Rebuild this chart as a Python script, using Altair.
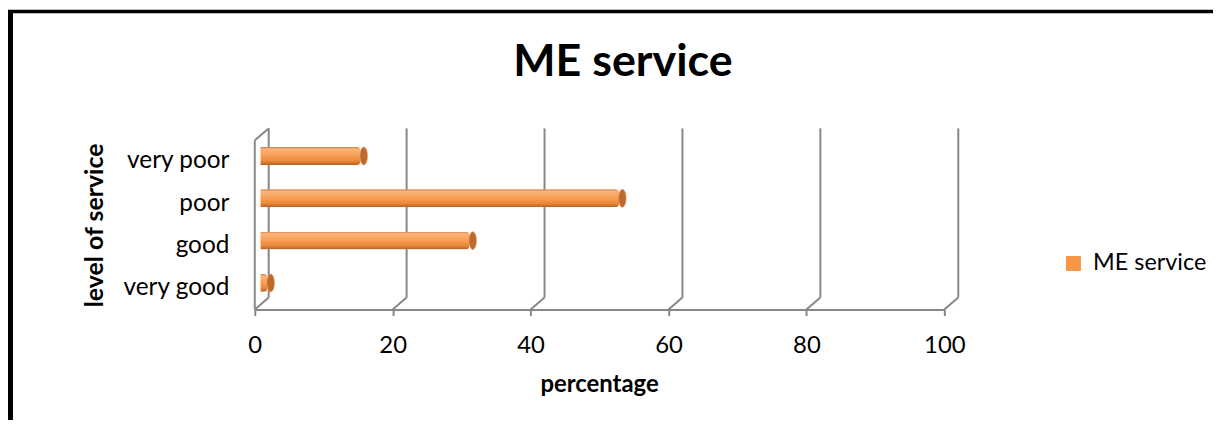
import altair as alt
import pandas as pd

# ---- data ----
categories = ["very poor", "poor", "good", "very good"]
values = [15.3, 52.8, 31.1, 1.8]
series_name = "ME service"
chart_title = "ME service"
x_ticks = [0, 20, 40, 60, 80, 100]

df = pd.DataFrame({"level": categories, "pct": values, "series": [series_name] * len(categories)})
ticks_df = pd.DataFrame({"t": x_ticks})
one = pd.DataFrame({"a": [0]})
title_df = pd.DataFrame({"txt": [chart_title]})

W, H = 693, 170
DX, DY = 14, -12          # 3-D depth offset of the back wall
GRID = "#878787"
FONT = "Lato"

xscale = alt.Scale(domain=[0, 100], nice=False, zero=True)
yscale = alt.Scale(domain=categories, paddingInner=0, paddingOuter=0)

x_axis = alt.Axis(values=x_ticks, grid=False, domainColor=GRID, domainWidth=2,
                  tickColor=GRID, tickWidth=2, tickSize=6, labelFlush=False,
                  labelFont=FONT, labelFontSize=24, labelColor="black", labelPadding=18,
                  title="percentage", titleFont=FONT, titleFontSize=24, titleFontWeight="bold",
                  titleColor="black", titleX=346, titleY=75, titleBaseline="middle")
y_axis = alt.Axis(domain=False, ticks=False, grid=False,
                  labelFont=FONT, labelFontSize=24.5, labelColor="black", labelPadding=26,
                  labelAlign="right", labelBaseline="middle",
                  title="level of service", titleFont=FONT, titleFontSize=25, titleFontWeight="bold",
                  titleColor="black", titleAngle=-90, titleX=-161, titleY=85,
                  titleAlign="center", titleBaseline="middle")

X = alt.X("pct:Q", scale=xscale, axis=x_axis)
Y = alt.Y("level:N", sort=categories, scale=yscale, axis=y_axis)
XT = alt.X("t:Q", scale=xscale, axis=x_axis)

legend = alt.Legend(title=None, orient="none", legendX=811, legendY=112, symbolType="square",
                    symbolSize=225, symbolStrokeWidth=0, labelFont=FONT, labelFontSize=23.5,
                    labelColor="black", labelOffset=8, padding=0)

bar_kw = dict(height=18, yOffset=-5.5, xOffset=6, x2Offset=3, cornerRadius=3.5)

base_bar = alt.Chart(df).mark_bar(**bar_kw).encode(
    x=X, y=Y,
    color=alt.Color("series:N", scale=alt.Scale(range=["#F79646"]), legend=legend),
)

grad = alt.Gradient(gradient="linear", x1=0, x2=0, y1=0, y2=1, stops=[
    alt.GradientStop(color="#D0824A", offset=0),
    alt.GradientStop(color="#FBB47A", offset=0.12),
    alt.GradientStop(color="#F9A058", offset=0.45),
    alt.GradientStop(color="#EC8838", offset=0.78),
    alt.GradientStop(color="#B0602A", offset=1),
])
grad_bar = alt.Chart(df).mark_bar(color=grad, **bar_kw).encode(x=X, y=Y)

ellipse = "M0,-1 A0.42,1 0 1,1 0,1 A0.42,1 0 1,1 0,-1 Z"
caps = alt.Chart(df).mark_point(shape=ellipse, size=324, filled=True, fill="#BE6A2C",
                                stroke="#E59A5E", strokeWidth=0.6, opacity=1,
                                yOffset=-5.5, xOffset=3.5).encode(x=X, y=Y)

# back-wall gridlines
back_grid = alt.Chart(ticks_df).mark_rule(color=GRID, strokeWidth=2, xOffset=DX).encode(
    x=XT, y=alt.value(DY), y2=alt.value(H + DY))
# floor diagonals
floor_diag = alt.Chart(ticks_df).mark_rule(color=GRID, strokeWidth=2, xOffset=0, x2Offset=DX).encode(
    x=XT, x2="t:Q", y=alt.value(H), y2=alt.value(H + DY))
# left wall: front vertical and top diagonal
left_front = alt.Chart(one).mark_rule(color=GRID, strokeWidth=2).encode(
    x=alt.value(0), y=alt.value(0), y2=alt.value(H))
left_top = alt.Chart(one).mark_rule(color=GRID, strokeWidth=2).encode(
    x=alt.value(0), x2=alt.value(DX), y=alt.value(0), y2=alt.value(DY))

# outer black frame (top and left edges)
frame_top = alt.Chart(one).mark_rule(color="black", strokeWidth=3.5).encode(
    x=alt.value(-248), x2=alt.value(972), y=alt.value(-129.5))
frame_left = alt.Chart(one).mark_rule(color="black", strokeWidth=5).encode(
    x=alt.value(-245.5), y=alt.value(-131), y2=alt.value(300))

# chart title as a text mark
title_mark = alt.Chart(title_df).mark_text(font=FONT, fontSize=45, fontWeight="bold", color="black",
                                           align="center", baseline="alphabetic").encode(
    text="txt:N", x=alt.value(370), y=alt.value(-65))

chart = alt.layer(
    frame_top, frame_left, back_grid, floor_diag, left_front, left_top,
    base_bar, grad_bar, caps, title_mark,
).properties(
    width=W, height=H, background="white",
    autosize=alt.AutoSizeParams(type="none"),
    padding={"left": 248, "top": 132, "right": 270, "bottom": 110},
).configure_view(stroke=None, strokeWidth=0)

chart.save("out.html", embed_options={"renderer": "svg", "actions": False})
